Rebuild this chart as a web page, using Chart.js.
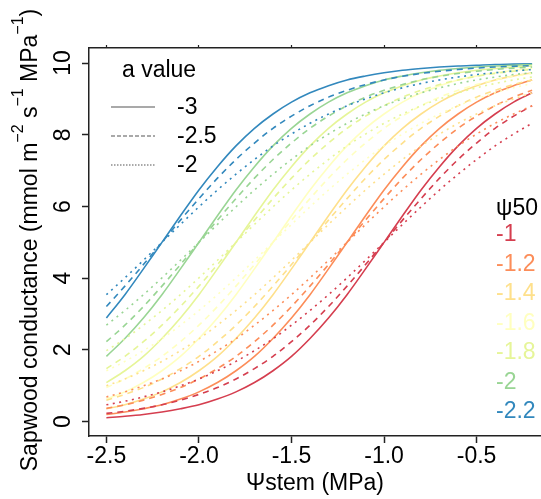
<!DOCTYPE html>
<html>
<head>
<meta charset="utf-8">
<script src="https://cdn.jsdelivr.net/npm/chart.js@4.4.1/dist/chart.umd.min.js"></script>
<style>
  html, body { margin: 0; padding: 0; background: #fff; overflow: hidden; }
</style>
</head>
<body>
<canvas id="condChart" width="541" height="499"></canvas>
<script>
// stem water potential (MPa), x of every curve
const psiStem = [-2.5, -2.4, -2.3, -2.2, -2.1, -2.0, -1.9, -1.8, -1.7, -1.6, -1.5, -1.4,
  -1.3, -1.2, -1.1, -1.0, -0.9, -0.8, -0.7, -0.6, -0.5, -0.4, -0.3, -0.2];

const psi50Labels = ["-1", "-1.2", "-1.4", "-1.6", "-1.8", "-2", "-2.2"];
const psi50Colors = ["#D53E4F", "#FC8D59", "#FEE08B", "#FFFFBF", "#E6F598", "#99D594", "#3288BD"];
const aLabels = ["-3", "-2.5", "-2"];

// sapwood conductance, one row per psi50 (same order as psi50Labels)
const condA3 = [
  [0.11,0.15,0.20,0.27,0.36,0.47,0.63,0.83,1.09,1.42,1.82,2.32,2.89,3.54,4.26,5.00,5.74,6.46,7.11,7.69,8.18,8.58,8.91,9.17],
  [0.20,0.27,0.36,0.47,0.63,0.83,1.09,1.42,1.82,2.32,2.89,3.54,4.26,5.00,5.74,6.46,7.11,7.69,8.18,8.58,8.91,9.17,9.37,9.53],
  [0.36,0.47,0.63,0.83,1.09,1.42,1.82,2.32,2.89,3.54,4.26,5.00,5.74,6.46,7.11,7.69,8.18,8.58,8.91,9.17,9.37,9.53,9.64,9.73],
  [0.63,0.83,1.09,1.42,1.82,2.32,2.89,3.54,4.26,5.00,5.74,6.46,7.11,7.69,8.18,8.58,8.91,9.17,9.37,9.53,9.64,9.73,9.80,9.85],
  [1.09,1.42,1.82,2.32,2.89,3.54,4.26,5.00,5.74,6.46,7.11,7.69,8.18,8.58,8.91,9.17,9.37,9.53,9.64,9.73,9.80,9.85,9.89,9.92],
  [1.82,2.32,2.89,3.54,4.26,5.00,5.74,6.46,7.11,7.69,8.18,8.58,8.91,9.17,9.37,9.53,9.64,9.73,9.80,9.85,9.89,9.92,9.94,9.96],
  [2.89,3.54,4.26,5.00,5.74,6.46,7.11,7.69,8.18,8.58,8.91,9.17,9.37,9.53,9.64,9.73,9.80,9.85,9.89,9.92,9.94,9.96,9.97,9.98],
];
const condA25 = [
  [0.23,0.29,0.37,0.47,0.60,0.76,0.95,1.19,1.48,1.82,2.23,2.69,3.21,3.78,4.38,5.00,5.62,6.22,6.79,7.31,7.77,8.18,8.52,8.81],
  [0.37,0.47,0.60,0.76,0.95,1.19,1.48,1.82,2.23,2.69,3.21,3.78,4.38,5.00,5.62,6.22,6.79,7.31,7.77,8.18,8.52,8.81,9.05,9.24],
  [0.60,0.76,0.95,1.19,1.48,1.82,2.23,2.69,3.21,3.78,4.38,5.00,5.62,6.22,6.79,7.31,7.77,8.18,8.52,8.81,9.05,9.24,9.40,9.53],
  [0.95,1.19,1.48,1.82,2.23,2.69,3.21,3.78,4.38,5.00,5.62,6.22,6.79,7.31,7.77,8.18,8.52,8.81,9.05,9.24,9.40,9.53,9.63,9.71],
  [1.48,1.82,2.23,2.69,3.21,3.78,4.38,5.00,5.62,6.22,6.79,7.31,7.77,8.18,8.52,8.81,9.05,9.24,9.40,9.53,9.63,9.71,9.77,9.82],
  [2.23,2.69,3.21,3.78,4.38,5.00,5.62,6.22,6.79,7.31,7.77,8.18,8.52,8.81,9.05,9.24,9.40,9.53,9.63,9.71,9.77,9.82,9.86,9.89],
  [3.21,3.78,4.38,5.00,5.62,6.22,6.79,7.31,7.77,8.18,8.52,8.81,9.05,9.24,9.40,9.53,9.63,9.71,9.77,9.82,9.86,9.89,9.91,9.93],
];
const condA2 = [
  [0.47,0.57,0.69,0.83,1.00,1.19,1.42,1.68,1.98,2.31,2.69,3.10,3.54,4.01,4.50,5.00,5.50,5.99,6.46,6.90,7.31,7.69,8.02,8.32],
  [0.69,0.83,1.00,1.19,1.42,1.68,1.98,2.31,2.69,3.10,3.54,4.01,4.50,5.00,5.50,5.99,6.46,6.90,7.31,7.69,8.02,8.32,8.58,8.81],
  [1.00,1.19,1.42,1.68,1.98,2.31,2.69,3.10,3.54,4.01,4.50,5.00,5.50,5.99,6.46,6.90,7.31,7.69,8.02,8.32,8.58,8.81,9.00,9.17],
  [1.42,1.68,1.98,2.31,2.69,3.10,3.54,4.01,4.50,5.00,5.50,5.99,6.46,6.90,7.31,7.69,8.02,8.32,8.58,8.81,9.00,9.17,9.31,9.43],
  [1.98,2.31,2.69,3.10,3.54,4.01,4.50,5.00,5.50,5.99,6.46,6.90,7.31,7.69,8.02,8.32,8.58,8.81,9.00,9.17,9.31,9.43,9.53,9.61],
  [2.69,3.10,3.54,4.01,4.50,5.00,5.50,5.99,6.46,6.90,7.31,7.69,8.02,8.32,8.58,8.81,9.00,9.17,9.31,9.43,9.53,9.61,9.68,9.73],
  [3.54,4.01,4.50,5.00,5.50,5.99,6.46,6.90,7.31,7.69,8.02,8.32,8.58,8.81,9.00,9.17,9.31,9.43,9.53,9.61,9.68,9.73,9.78,9.82],
];

const xTicks = [-2.5, -2.0, -1.5, -1.0, -0.5];
const yTicks = [0, 2, 4, 6, 8, 10];

const FONT = '"Liberation Sans", Arial, Helvetica, sans-serif';
const INK = "#222";

// dotted first, solid on top
const groups = [
  { rows: condA2, dash: [2, 4.5] },
  { rows: condA25, dash: [6, 5] },
  { rows: condA3, dash: [] },
];

const datasets = [];
groups.forEach((g) => {
  g.rows.forEach((row, j) => {
    datasets.push({
      data: psiStem.map((x, k) => ({ x: x, y: row[k] })),
      borderColor: psi50Colors[j],
      borderDash: g.dash,
      borderWidth: 1.6,
      pointRadius: 0,
      fill: false,
      cubicInterpolationMode: "monotone",
    });
  });
});

// legends and the y title (with superscripts) drawn on top
const extraText = {
  id: "extraText",
  afterDraw(chart) {
    const ctx = chart.ctx;
    ctx.save();
    ctx.fillStyle = "#000";
    ctx.textBaseline = "alphabetic";

    // a value legend
    ctx.font = "23px " + FONT;
    ctx.textAlign = "left";
    ctx.fillText("a value", 122, 77);
    const dashes = [[], [4, 2], [1.5, 1.5]];
    aLabels.forEach((lab, i) => {
      const y = 107 + i * 29;
      ctx.save();
      ctx.strokeStyle = "#555";
      ctx.lineWidth = 1.1;
      ctx.setLineDash(dashes[i]);
      ctx.beginPath();
      ctx.moveTo(111, y);
      ctx.lineTo(155, y);
      ctx.stroke();
      ctx.restore();
      ctx.fillStyle = "#000";
      ctx.textBaseline = "middle";
      ctx.fillText(lab, 177, y + 1);
      ctx.textBaseline = "alphabetic";
    });

    // psi50 legend
    ctx.fillText("\u03C850", 496, 215);
    psi50Labels.forEach((lab, j) => {
      ctx.fillStyle = psi50Colors[j];
      ctx.fillText(lab, 496, 241 + j * 29.5);
    });

    // y axis title
    const parts = [
      ["Sapwood conductance (mmol m", false],
      ["\u22122", true],
      [" s", false],
      ["\u22121", true],
      [" MPa", false],
      ["\u22121", true],
      [")", false],
    ];
    const mainFont = "23px " + FONT;
    const supFont = "16px " + FONT;
    let total = 0;
    parts.forEach((p) => {
      ctx.font = p[1] ? supFont : mainFont;
      total += ctx.measureText(p[0]).width;
    });
    ctx.translate(37, 240);
    ctx.rotate(-Math.PI / 2);
    ctx.fillStyle = "#000";
    let u = -total / 2;
    parts.forEach((p) => {
      ctx.font = p[1] ? supFont : mainFont;
      ctx.fillText(p[0], u, p[1] ? -14 : 0);
      u += ctx.measureText(p[0]).width;
    });
    ctx.restore();
  },
};

const ctxCond = document.getElementById("condChart").getContext("2d");
const condChart = new Chart(ctxCond, {
  type: "line",
  data: { datasets: datasets },
  options: {
    responsive: false,
    animation: false,
    layout: { padding: 0 },
    scales: {
      x: {
        type: "linear",
        position: "bottom",
        min: -2.594,
        max: -0.152,
        afterBuildTicks: (s) => { s.ticks = xTicks.map((v) => ({ value: v })); },
        afterFit: (s) => { s.height = 63; },
        ticks: {
          callback: (v) => v.toFixed(1),
          font: { size: 23, family: FONT },
          color: "#000",
          padding: 0,
          maxRotation: 0,
          autoSkip: false,
        },
        grid: { drawOnChartArea: false, tickLength: 7, tickColor: INK, tickWidth: 1.5 },
        border: { display: true, color: INK, width: 1.5 },
        title: {
          display: true,
          text: "\u03A8stem (MPa)",
          font: { size: 23, family: FONT },
          color: "#000",
          padding: { top: 0, bottom: 2 },
        },
      },
      x2: {
        type: "linear",
        position: "top",
        min: -2.594,
        max: -0.152,
        afterBuildTicks: (s) => { s.ticks = xTicks.map((v) => ({ value: v })); },
        afterFit: (s) => { s.height = 48; },
        ticks: { display: false },
        grid: { drawOnChartArea: false, tickLength: 3, tickColor: INK, tickWidth: 1.2 },
        border: { display: true, color: INK, width: 1.5 },
      },
      y: {
        type: "linear",
        position: "left",
        min: -0.4,
        max: 10.42,
        afterBuildTicks: (s) => { s.ticks = yTicks.map((v) => ({ value: v })); },
        afterFit: (s) => { s.width = 89; },
        ticks: {
          font: { size: 23, family: FONT },
          color: "#000",
          minRotation: 90,
          maxRotation: 90,
          crossAlign: "center",
          padding: 6,
        },
        grid: { drawOnChartArea: false, tickLength: 7, tickColor: INK, tickWidth: 1.5 },
        border: { display: true, color: INK, width: 1.5 },
      },
    },
    plugins: {
      legend: { display: false },
      tooltip: { enabled: false },
    },
  },
  plugins: [extraText],
});
</script>
</body>
</html>
